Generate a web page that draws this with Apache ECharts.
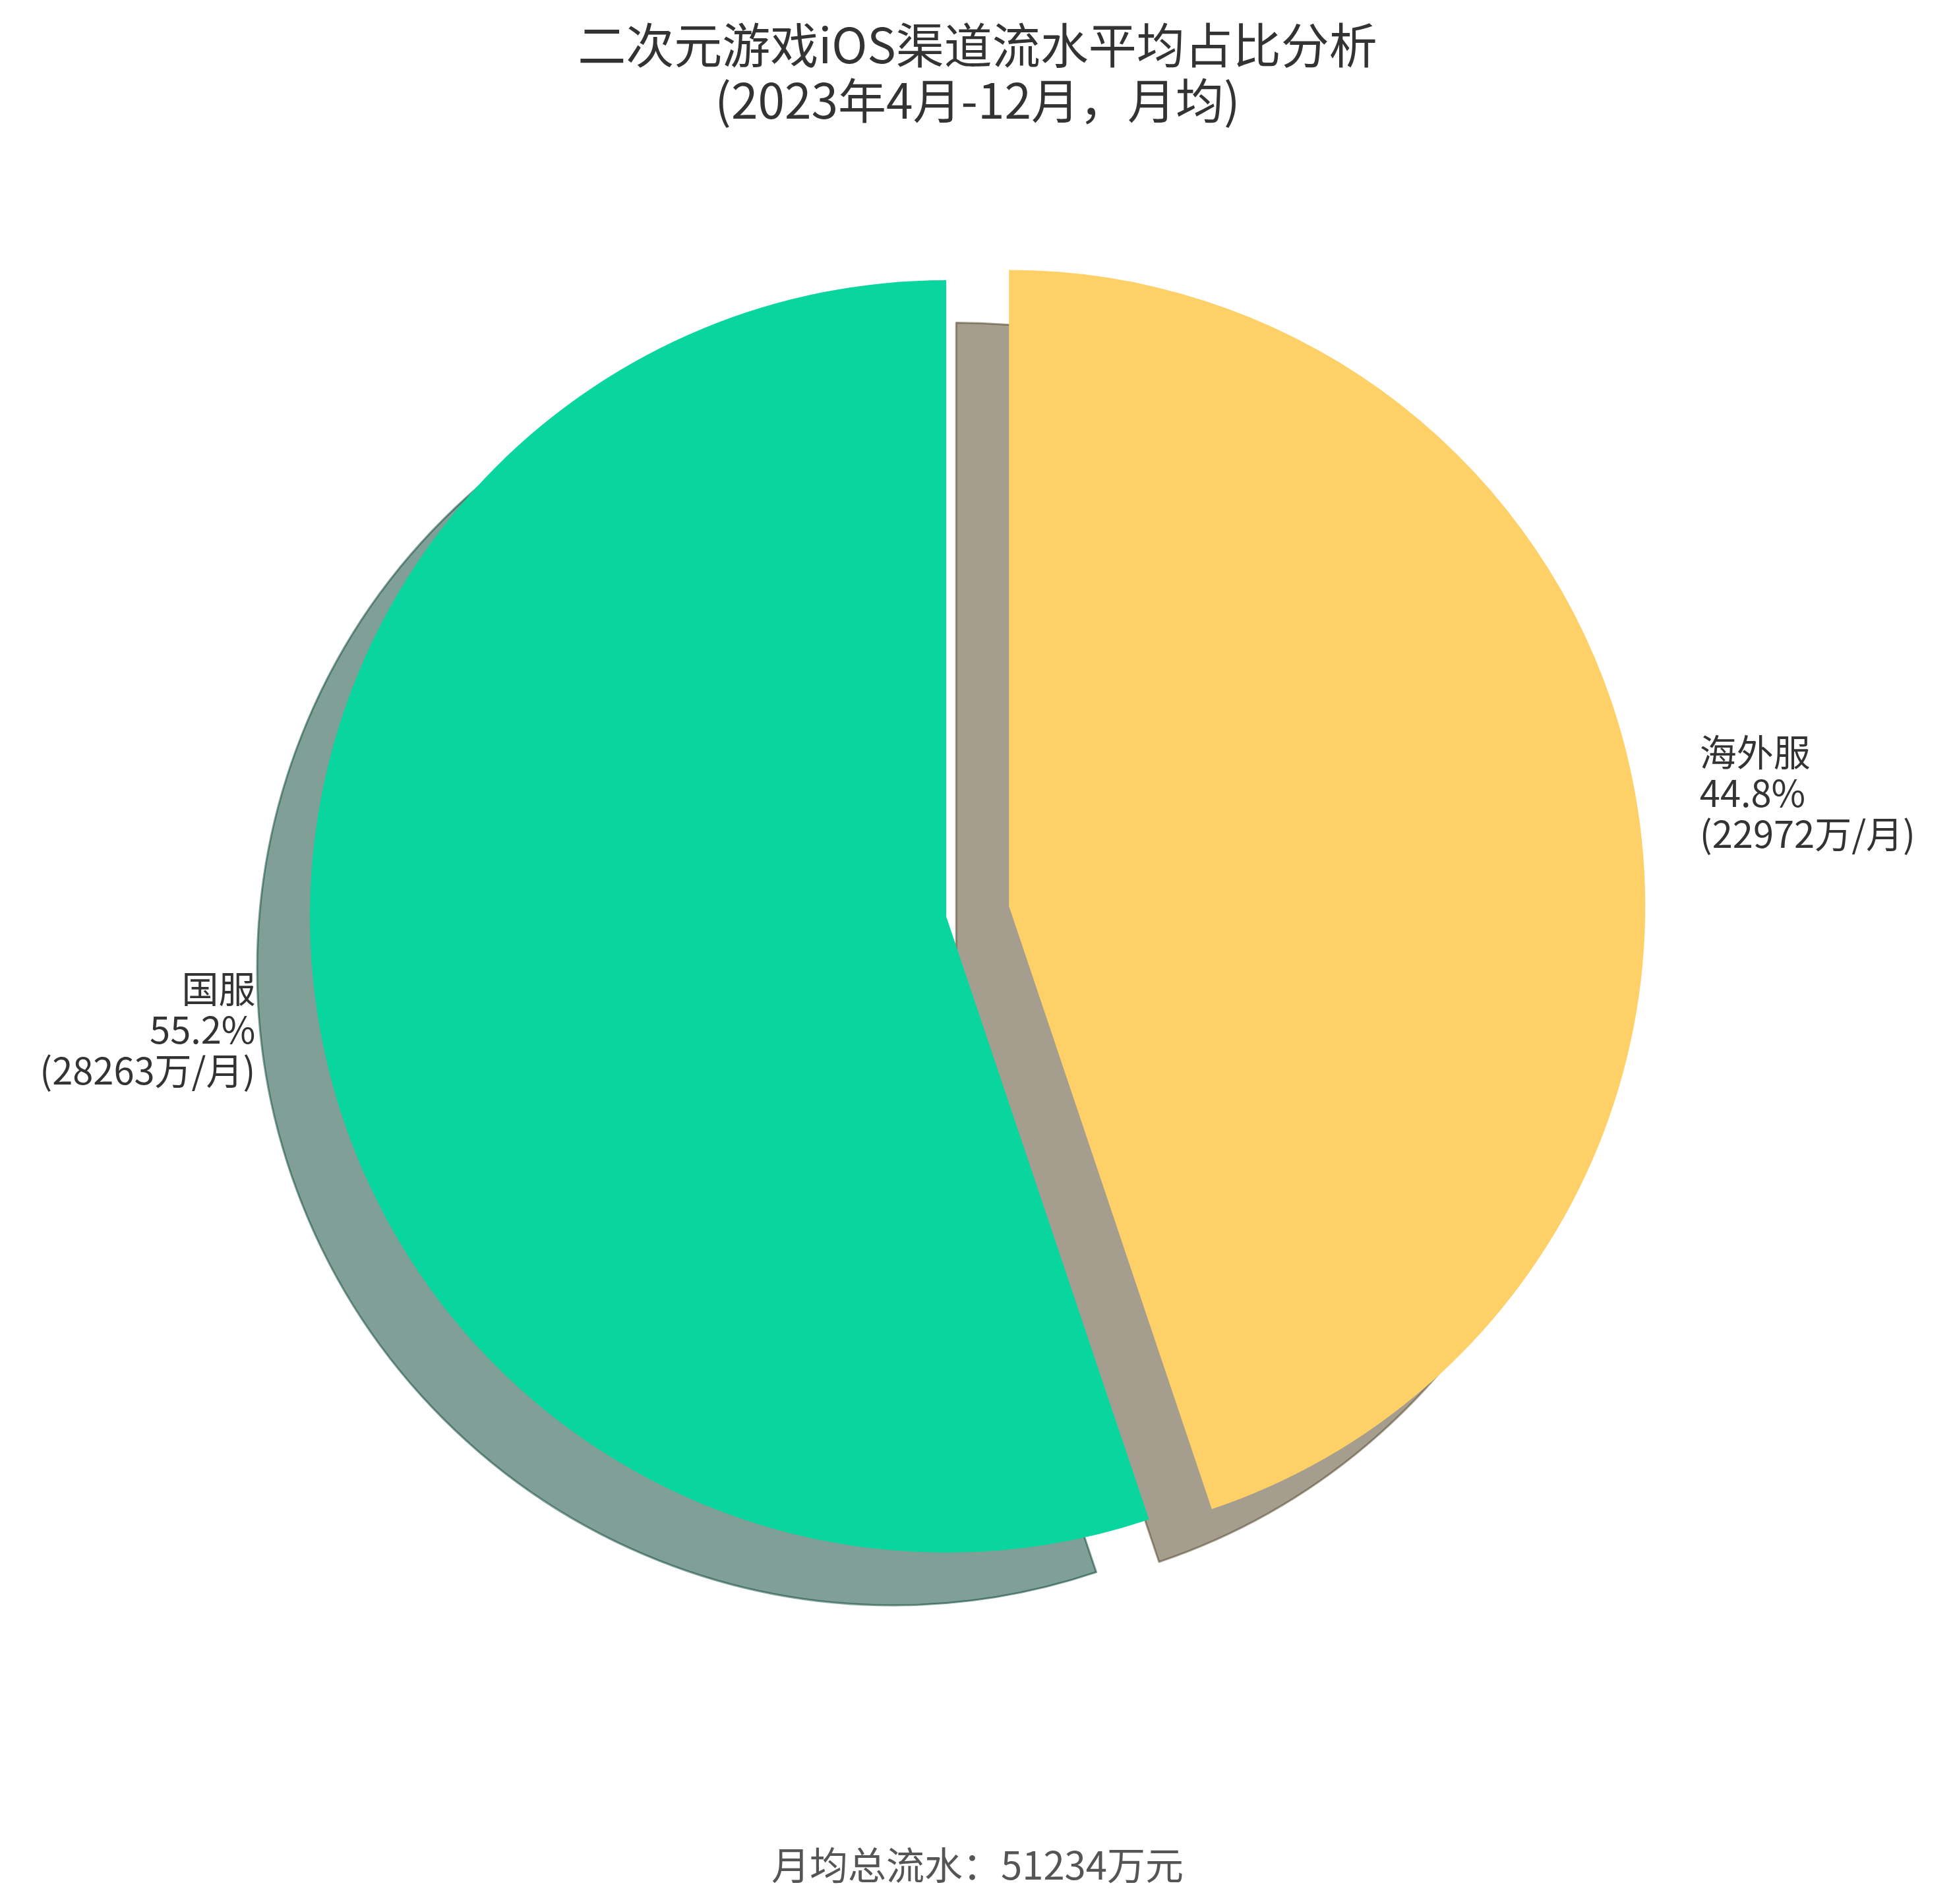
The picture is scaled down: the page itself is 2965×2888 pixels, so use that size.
<!DOCTYPE html>
<html lang="zh">
<head>
    <meta charset="UTF-8">
    <title>二次元游戏iOS渠道流水平均占比分析</title>
    <script src="https://cdn.jsdelivr.net/npm/echarts@6/dist/echarts.min.js"></script>
    <style>
        * { margin: 0; padding: 0 }
        html, body { width: 100%; height: 100%; background: #fff; }
        #main { width: 2965px; height: 2888px; }
    </style>
</head>
<body>
<div id="main"></div>
<script type="text/javascript">
    // 数据
    var channels = ['国服', '海外服'];
    var monthlyRevenue = [28263, 22972];   // 万元/月
    var monthlyTotal = 51234;              // 图下方注明的月均总流水
    var explodeFlags = [false, true];

    var colors = ['#08D69E', '#FED068'];
    var shadowColors = ['rgba(2,64,47,0.5)', 'rgba(76,62,31,0.5)'];

    var R = 965;
    var CX = 1435, CY = 1390;
    var SHADOW_DX = -80, SHADOW_DY = 80;
    var FONT = '"Noto Sans CJK SC", "Noto Sans", sans-serif';

    var sum = monthlyRevenue.reduce(function (a, b) { return a + b; }, 0);

    function buildData(isShadow) {
        return channels.map(function (name, i) {
            var pct = (monthlyRevenue[i] / sum * 100).toFixed(1);
            return {
                name: name,
                value: monthlyRevenue[i],
                selected: explodeFlags[i],
                itemStyle: isShadow ? {
                    color: shadowColors[i],
                    borderColor: shadowColors[i],
                    borderWidth: 3
                } : { color: colors[i] },
                label: isShadow ? { show: false } : {
                    formatter: name + '\n' + pct + '%\n(' + monthlyRevenue[i] + '万/月)'
                }
            };
        });
    }

    var myChart = echarts.init(document.getElementById('main'));

    var baseSeries = {
        type: 'pie',
        radius: [0, R],
        startAngle: 90,
        clockwise: false,
        selectedMode: 'multiple',
        selectedOffset: R * 0.1,
        avoidLabelOverlap: false,
        silent: true,
        emphasis: { disabled: true }
    };

    var option = {
        animation: false,
        backgroundColor: '#ffffff',
        title: [
            {
                text: '二次元游戏iOS渠道流水平均占比分析\n(2023年4月-12月，月均)',
                left: 'center',
                top: 26,
                padding: 0,
                textStyle: {
                    fontFamily: FONT,
                    fontSize: 73,
                    fontWeight: 'normal',
                    lineHeight: 84,
                    color: '#333333'
                }
            },
            {
                text: '月均总流水：' + monthlyTotal + '万元',
                left: 'center',
                top: 2800,
                padding: 0,
                textStyle: {
                    fontFamily: FONT,
                    fontSize: 58,
                    fontWeight: 'normal',
                    color: '#555555'
                }
            }
        ],
        series: [
            echarts.util.merge({
                name: 'shadow',
                center: [CX + SHADOW_DX, CY + SHADOW_DY],
                label: { show: false },
                labelLine: { show: false },
                data: buildData(true)
            }, baseSeries),
            echarts.util.merge({
                name: '月均流水',
                center: [CX, CY],
                label: {
                    show: true,
                    position: 'outside',
                    distanceToLabelLine: 0,
                    fontFamily: FONT,
                    fontSize: 56,
                    lineHeight: 62,
                    color: '#333333'
                },
                labelLine: { show: false, length: R * 0.1, length2: 0 },
                data: buildData(false)
            }, baseSeries)
        ]
    };

    myChart.setOption(option);
</script>
</body>
</html>
